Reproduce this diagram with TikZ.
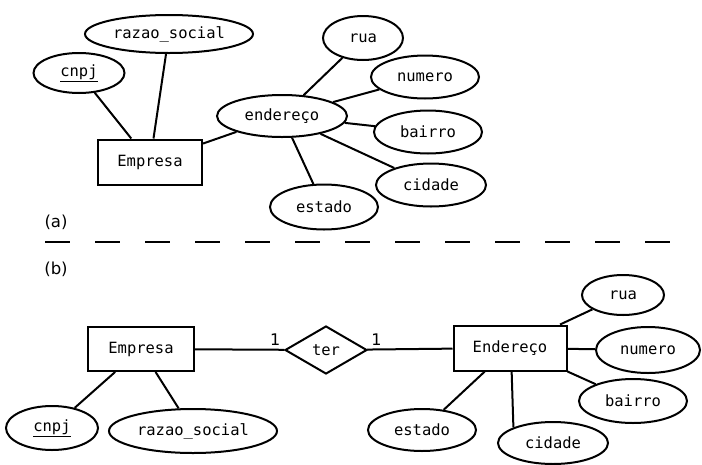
\documentclass[tikz,border=0pt]{standalone}
\usepackage{fontspec}
\setmainfont{DejaVu Sans}
\newfontfamily\erfont{DejaVu Sans Mono}
\usetikzlibrary{shapes.geometric}

\begin{document}
\begin{tikzpicture}[x=1pt,y=-1pt,line width=2pt]
\tikzstyle{every node}+=[font=\erfont\fontsize{15.5}{18}\selectfont]
\tikzstyle{attr}=[draw,ellipse,inner sep=0pt,minimum height=43pt]
\tikzstyle{ent}=[draw,rectangle,inner sep=0pt,minimum height=45pt]
\tikzstyle{rel}=[draw,diamond,inner sep=0pt,minimum width=82pt,minimum height=48pt]
\tikzstyle{tag}=[font=\fontsize{16.5}{19}\selectfont]
\tikzstyle{card}=[font=\fontsize{16}{18}\selectfont,inner sep=3pt]
\useasboundingbox (0,0) rectangle (702,464);
\node [ent,minimum width=104pt] (empA) at (150,162) {Empresa};
\node [attr,minimum width=91pt,minimum height=40pt] (cnpjA) at (79,73) {\underline{cnpj}};
\node [attr,minimum width=168pt,minimum height=38pt] (razA) at (169,34) {razao\_social};
\node [attr,minimum width=130pt,minimum height=42pt] (endA) at (282,116) {endereço};
\node [attr,minimum width=80pt,minimum height=44pt] (ruaA) at (363,38) {rua};
\node [attr,minimum width=108pt] (numA) at (425,77) {numero};
\node [attr,minimum width=108pt] (baiA) at (428,132) {bairro};
\node [attr,minimum width=110pt] (cidA) at (431,185) {cidade};
\node [attr,minimum width=108pt,minimum height=45pt] (estA) at (324,207) {estado};
\draw (cnpjA) -- (empA);
\draw (razA) -- (empA);
\draw (empA) -- (endA);
\draw (endA) -- (ruaA);
\draw (endA) -- (numA);
\draw (endA) -- (baiA);
\draw (endA) -- (cidA);
\draw (endA) -- (estA);
\node [tag] (labA) at (56,222) {(a)};
\coordinate (sepL) at (45,242);
\coordinate (sepR) at (670,242);
\draw [dash pattern=on 25pt off 25pt] (sepL) -- (sepR);
\node [tag] (labB) at (56,269) {(b)};
\node [ent,minimum width=106pt,minimum height=44pt] (empB) at (141,349) {Empresa};
\node [rel] (ter) at (326,350) {ter};
\node [ent,minimum width=113pt] (endB) at (510,348) {Endereço};
\node [attr,minimum width=82pt,minimum height=40pt] (ruaB) at (623,295) {rua};
\node [attr,minimum width=104pt,minimum height=46pt] (numB) at (648,350) {numero};
\node [attr,minimum width=108pt,minimum height=44pt] (baiB) at (633,401) {bairro};
\node [attr,minimum width=110pt,minimum height=42pt] (cidB) at (553,443) {cidade};
\node [attr,minimum width=108pt,minimum height=42pt] (estB) at (422,430) {estado};
\node [attr,minimum width=92pt,minimum height=44pt] (cnpjB) at (52,428) {\underline{cnpj}};
\node [attr,minimum width=168pt,minimum height=44pt] (razB) at (193,431) {razao\_social};
\draw (empB) -- (ter) node [card,pos=1,above left] (c1) {1};
\draw (ter) -- (endB) node [card,pos=0,above right] (c2) {1};
\draw (endB) -- (ruaB);
\draw (endB) -- (numB);
\draw (endB.south east) -- (baiB);
\draw (endB.-86) -- (cidB.north west);
\draw (endB) -- (estB);
\draw (empB) -- (cnpjB);
\draw (empB) -- (razB);
\end{tikzpicture}
\end{document}
